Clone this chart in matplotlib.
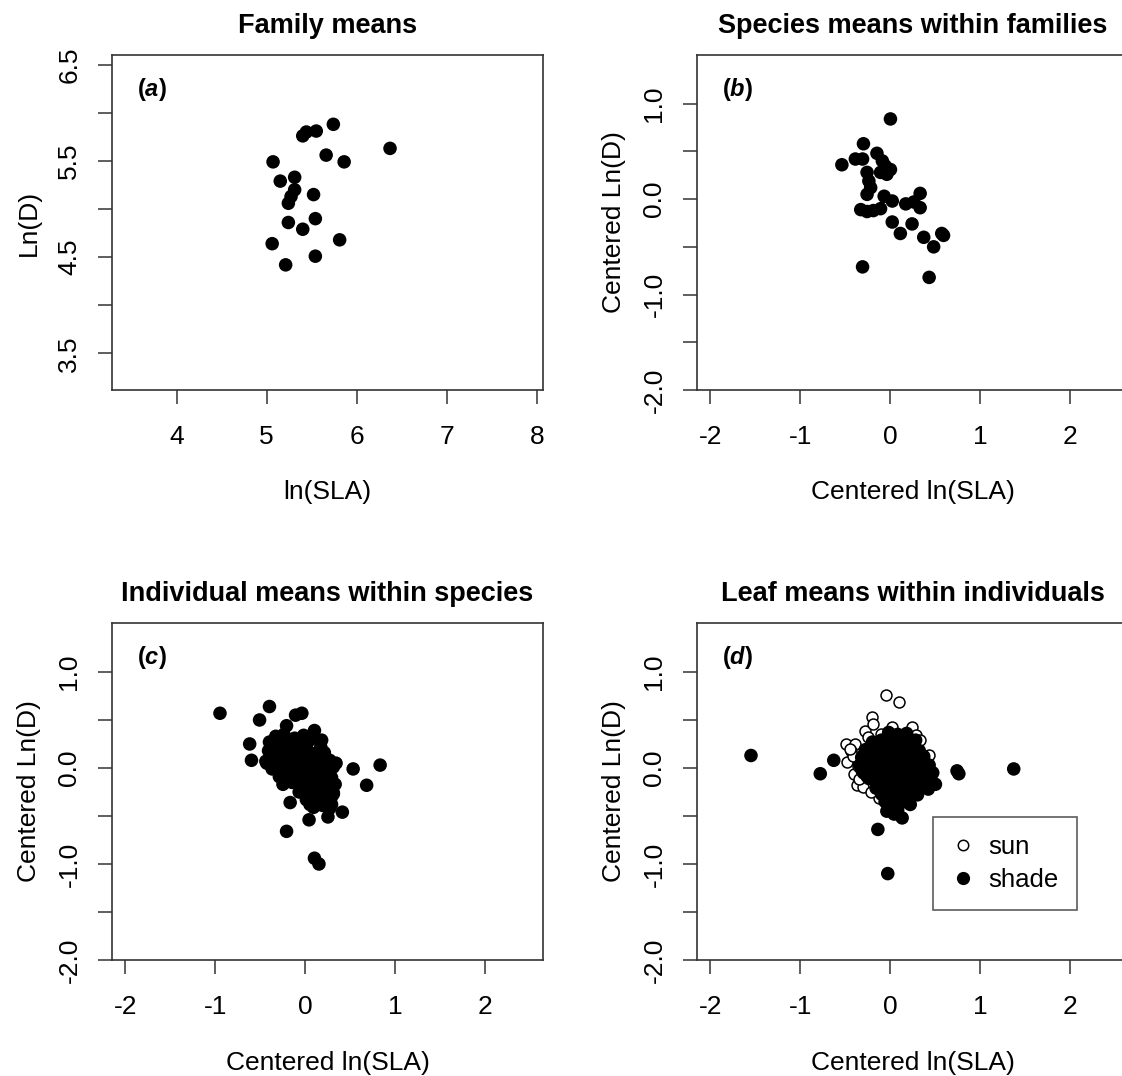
import matplotlib.pyplot as plt
from matplotlib.lines import Line2D

plt.rcParams['font.family'] = ['Liberation Sans', 'DejaVu Sans']
plt.rcParams['axes.unicode_minus'] = False
plt.rcParams['mathtext.fontset'] = 'custom'
plt.rcParams['mathtext.bf'] = 'Liberation Sans:bold'
plt.rcParams['mathtext.bfit'] = 'Liberation Sans:italic:bold'

# (a) family means
fam_x = [5.74, 5.55, 5.44, 5.40, 6.37, 5.66, 5.86, 5.07, 5.15, 5.31, 5.31,
         5.27, 5.24, 5.52, 5.54, 5.24, 5.40, 5.06, 5.81, 5.54, 5.21]
fam_y = [5.88, 5.81, 5.80, 5.76, 5.63, 5.56, 5.49, 5.49, 5.29, 5.33, 5.20,
         5.13, 5.06, 5.15, 4.90, 4.86, 4.79, 4.64, 4.68, 4.51, 4.42]

# (b) species means within families
sp_x = [0.00, -0.30, -0.54, -0.39, -0.31, -0.15, -0.09, -0.06, 0.00, -0.11,
        -0.04, -0.26, -0.24, -0.22, -0.26, -0.07, 0.02, -0.33, -0.26, -0.19,
        -0.11, 0.33, 0.17, 0.26, 0.33, 0.02, 0.11, 0.24, 0.37, 0.48,
        0.57, 0.59, -0.31, 0.43]
sp_y = [0.84, 0.58, 0.36, 0.42, 0.42, 0.48, 0.40, 0.35, 0.31, 0.28,
        0.26, 0.28, 0.19, 0.12, 0.05, 0.03, -0.02, -0.11, -0.13, -0.12,
        -0.10, 0.06, -0.05, -0.03, -0.09, -0.24, -0.36, -0.26, -0.40, -0.50,
        -0.36, -0.38, -0.71, -0.82]

# (c) individual means within species
ind_x = [-0.95, -0.40, -0.51, -0.11, -0.04, -0.21, 0.10, 0.18, -0.62, -0.60,
         -0.43, 0.34, 0.53, 0.83, 0.68, -0.25, -0.17, 0.04, -0.21, 0.25,
         0.41, 0.10, 0.15, 0.05, 0.31, 0.29,
         -0.33, -0.24, -0.12, -0.02, 0.06,
         -0.40, -0.30, -0.19, -0.08, 0.02, 0.17,
         -0.41, -0.33, -0.22, -0.11, -0.01, 0.09, 0.21,
         -0.44, -0.35, -0.24, -0.14, -0.04, 0.07, 0.17, 0.27,
         -0.37, -0.27, -0.17, -0.07, 0.03, 0.13, 0.23, 0.31,
         -0.29, -0.19, -0.09, 0.01, 0.11, 0.21, 0.29,
         -0.15, -0.05, 0.05, 0.15, 0.25, 0.33,
         -0.07, 0.03, 0.13, 0.23, 0.31,
         0.01, 0.11, 0.21, 0.29,
         0.09, 0.19, 0.27,
         -0.28, -0.14, 0.00, 0.12, -0.20, -0.06, 0.08, 0.22]
ind_y = [0.57, 0.64, 0.50, 0.55, 0.57, 0.44, 0.39, 0.29, 0.25, 0.08,
         0.05, 0.05, -0.01, 0.03, -0.18, -0.17, -0.36, -0.54, -0.66, -0.51,
         -0.46, -0.94, -1.00, -0.38, -0.27, -0.38,
         0.33, 0.35, 0.31, 0.34, 0.30,
         0.27, 0.24, 0.26, 0.23, 0.26, 0.22,
         0.18, 0.15, 0.17, 0.14, 0.18, 0.15, 0.16,
         0.07, 0.09, 0.06, 0.09, 0.07, 0.10, 0.07, 0.08,
         -0.01, 0.01, -0.02, 0.02, -0.01, 0.01, -0.02, 0.01,
         -0.09, -0.07, -0.10, -0.07, -0.09, -0.08, -0.10,
         -0.15, -0.17, -0.14, -0.18, -0.15, -0.17,
         -0.25, -0.23, -0.26, -0.24, -0.26,
         -0.33, -0.31, -0.34, -0.30,
         -0.41, -0.39, -0.42,
         0.21, 0.21, 0.12, 0.04, 0.04, -0.04, -0.13, -0.21]

# (d) leaf means within individuals, sun leaves
sun_x = [-0.05, 0.10, -0.21, 0.02, 0.24, 0.28, -0.28, -0.19, -0.49, -0.39,
         -0.48, -0.41, -0.37, -0.31, 0.43, 0.33, -0.13, -0.25, -0.44, -0.42,
         -0.35, -0.22, -0.11, -0.30, -0.20, -0.10, 0.00, 0.10, -0.20, 0.00,
         0.15, -0.10, 0.12, -0.36, -0.27, -0.33, -0.45]
sun_y = [0.76, 0.69, 0.53, 0.43, 0.43, 0.34, 0.39, 0.46, 0.25, 0.25,
         0.06, -0.06, -0.18, -0.20, 0.13, 0.29, -0.31, 0.32, 0.18, 0.12,
         -0.12, -0.25, -0.27, 0.15, 0.10, 0.20, 0.10, 0.00, -0.10, -0.15,
         0.20, 0.35, 0.33, 0.02, -0.08, -0.02, 0.20]

# (d) leaf means within individuals, shade leaves
shade_x = [-1.55, -0.78, -0.63, 0.76, 0.74, 1.37, -0.14, -0.03, 0.13, 0.04,
           -0.04, 0.50, 0.43,
           -0.02, 0.08, 0.18,
           -0.20, -0.10, 0.00, 0.10, 0.20, 0.28,
           -0.28, -0.18, -0.08, 0.02, 0.12, 0.22, 0.32,
           -0.32, -0.22, -0.12, -0.02, 0.08, 0.18, 0.28, 0.37,
           -0.34, -0.24, -0.14, -0.04, 0.06, 0.16, 0.26, 0.36, 0.43,
           -0.30, -0.20, -0.10, 0.00, 0.10, 0.20, 0.30, 0.40, 0.47,
           -0.24, -0.14, -0.04, 0.06, 0.16, 0.26, 0.36, 0.46,
           -0.16, -0.06, 0.04, 0.14, 0.24, 0.34, 0.42,
           -0.10, 0.00, 0.10, 0.20, 0.30,
           -0.06, 0.04, 0.12, 0.22,
           0.00, 0.08]
shade_y = [0.13, -0.06, 0.08, -0.06, -0.03, -0.01, -0.64, -1.10, -0.52, -0.48,
           -0.45, -0.17, -0.13,
           0.37, 0.35, 0.36,
           0.27, 0.29, 0.26, 0.28, 0.27, 0.29,
           0.19, 0.21, 0.18, 0.21, 0.19, 0.20, 0.18,
           0.11, 0.13, 0.10, 0.13, 0.11, 0.12, 0.10, 0.12,
           0.03, 0.05, 0.02, 0.05, 0.03, 0.05, 0.02, 0.04, 0.03,
           -0.05, -0.03, -0.06, -0.03, -0.05, -0.04, -0.06, -0.03, -0.05,
           -0.11, -0.13, -0.10, -0.12, -0.11, -0.13, -0.11, -0.14,
           -0.21, -0.19, -0.22, -0.20, -0.21, -0.19, -0.22,
           -0.27, -0.29, -0.27, -0.30, -0.28,
           -0.35, -0.37, -0.36, -0.38,
           -0.42, -0.44]

titles = ['Family means', 'Species means within families',
          'Individual means within species', 'Leaf means within individuals']
letters = ['a', 'b', 'c', 'd']

W, H = 1122, 1076
fig = plt.figure(figsize=(W / 100, H / 100), dpi=100)


def make_axes(left, top, right, bottom):
    return fig.add_axes([left / W, 1 - bottom / H, (right - left) / W, (bottom - top) / H])


ax_a = make_axes(112, 55, 543, 390)
ax_b = make_axes(697, 55, 1128, 390)
ax_c = make_axes(112, 623, 543, 960)
ax_d = make_axes(697, 623, 1128, 960)
axes = [ax_a, ax_b, ax_c, ax_d]

dot = dict(s=95, c='black', edgecolors='none', zorder=3)
ax_a.scatter(fam_x, fam_y, **dot)
ax_b.scatter(sp_x, sp_y, **dot)
ax_c.scatter(ind_x, ind_y, **dot)
ax_d.scatter(sun_x, sun_y, s=62, facecolors='white', edgecolors='black',
             linewidths=1.1, zorder=3)
ax_d.scatter(shade_x, shade_y, **dot)

ax_a.set_xlim(3.28, 8.07)
ax_a.set_ylim(3.12, 6.60)
ax_a.set_xticks([4, 5, 6, 7, 8])
ax_a.set_yticks([3.5, 4.0, 4.5, 5.0, 5.5, 6.0, 6.5])
ax_a.set_yticklabels(['3.5', '', '4.5', '', '5.5', '', '6.5'])
ax_a.set_xlabel('ln(SLA)')
ax_a.set_ylabel('Ln(D)')

for ax in (ax_b, ax_c, ax_d):
    ax.set_xlim(-2.15, 2.64)
    ax.set_ylim(-2.0, 1.51)
    ax.set_xticks([-2, -1, 0, 1, 2])
    ax.set_yticks([-2.0, -1.5, -1.0, -0.5, 0.0, 0.5, 1.0])
    ax.set_yticklabels(['-2.0', '', '-1.0', '', '0.0', '', '1.0'])
    ax.set_xlabel('Centered ln(SLA)')
    ax.set_ylabel('Centered Ln(D)')

for ax, title, letter in zip(axes, titles, letters):
    ax.set_title(title, fontsize=19.5, fontweight='bold', pad=16)
    ax.text(0.058, 0.897, r'$\mathbf{(}\mathbfit{%s}\mathbf{)}$' % letter,
            transform=ax.transAxes, fontsize=17, ha='left', va='center')
    for sp in ax.spines.values():
        sp.set_color('#333333')
        sp.set_linewidth(1.2)
    ax.tick_params(direction='out', length=10, width=1.1, color='#333333',
                   labelsize=19, pad=12)
    ax.tick_params(axis='x', pad=15)
    for lab in ax.get_yticklabels():
        lab.set_rotation(90)
        lab.set_va('center')
    ax.xaxis.label.set_size(19)
    ax.yaxis.label.set_size(19)
    ax.xaxis.set_label_coords(0.5, -0.27)
    ax.yaxis.set_label_coords(-0.165, 0.5)

handles = [Line2D([], [], ls='none', marker='o', markersize=7.5, mfc='white',
                  mec='black', mew=1.1),
           Line2D([], [], ls='none', marker='o', markersize=9.5, mfc='black',
                  mec='none')]
leg = ax_d.legend(handles, ['sun', 'shade'], loc='upper left',
                  bbox_to_anchor=(0.548, 0.424), borderaxespad=0, fontsize=18.5,
                  frameon=True, fancybox=False, edgecolor='#333333',
                  handlelength=0.9, handletextpad=0.55, borderpad=0.7,
                  labelspacing=0.35)
leg.get_frame().set_linewidth(1.2)

fig.savefig('out.png', dpi=100)
